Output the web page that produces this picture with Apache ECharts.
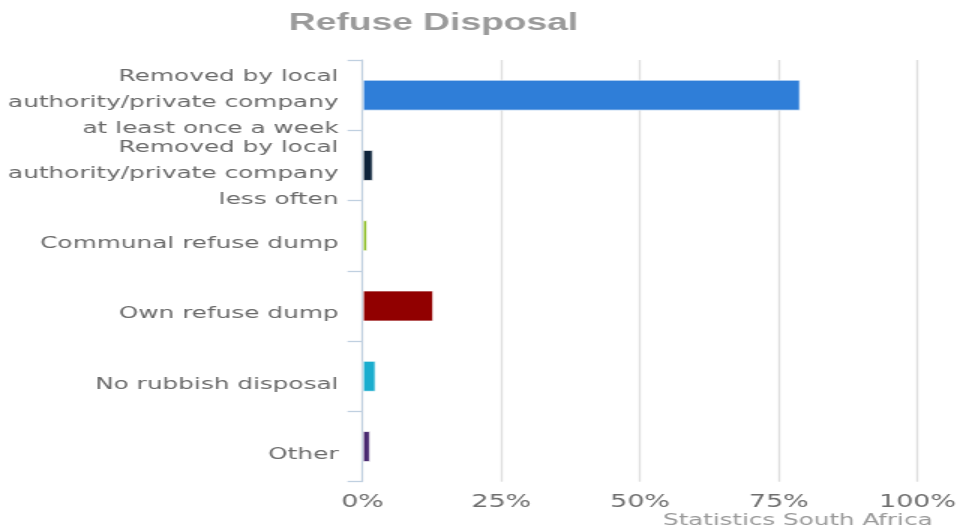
<!DOCTYPE html>
<html>
<head>
<meta charset="utf-8">
<script src="https://cdn.jsdelivr.net/npm/echarts@6/dist/echarts.min.js"></script>
<style>
  html, body { margin: 0; padding: 0; background: #fff; overflow: hidden; }
  /* the chart is laid out narrow and stretched horizontally to the page width */
  #chart { width: 643.33px; height: 531px; transform: scaleX(1.5); transform-origin: 0 0; }
</style>
</head>
<body>
<div id="chart"></div>
<script>
const titleText = 'Refuse Disposal';
const creditText = 'Statistics South Africa';
const categories = [
  'Removed by local\nauthority/private company\nat least once a week',
  'Removed by local\nauthority/private company\nless often',
  'Communal refuse dump',
  'Own refuse dump',
  'No rubbish disposal',
  'Other'
];
const percentages = [78.9, 1.9, 0.9, 12.8, 2.4, 1.4];
const barColors = ['#2f7ed8', '#0d233a', '#8bbc21', '#910000', '#1aadce', '#492970'];
const valueTicks = { min: 0, max: 100, interval: 25 };

// category labels sit a little below the band centre: an empty short first line pushes them down
const labelFormatter = (v) => '{gap|}\n' + v.split('\n').map((s) => '{t|' + s + '}').join('\n');

const chart = echarts.init(document.getElementById('chart'), null, { renderer: 'canvas' });
chart.setOption({
  animation: false,
  backgroundColor: '#fff',
  title: {
    text: titleText,
    left: 284,
    top: 6,
    textAlign: 'center',
    textStyle: { fontFamily: 'Liberation Sans', fontWeight: 'bold', fontSize: 24.8, color: '#9a9a9a' }
  },
  grid: { left: 241.7, right: 31.3, top: 60, bottom: 49.3, containLabel: false },
  xAxis: {
    type: 'value',
    min: valueTicks.min,
    max: valueTicks.max,
    interval: valueTicks.interval,
    axisLine: { show: false },
    axisTick: { show: false },
    splitLine: { show: true, lineStyle: { color: '#dedede', width: 1.3 } },
    axisLabel: {
      formatter: '{value}%',
      margin: 12,
      fontFamily: 'DejaVu Sans',
      fontSize: 18,
      color: '#6e6e6e'
    }
  },
  yAxis: {
    type: 'category',
    data: categories,
    inverse: true,
    axisLine: { show: true, lineStyle: { color: '#c0d0e0', width: 1 } },
    axisTick: { show: true, length: 10, lineStyle: { color: '#c0d0e0', width: 1.3 } },
    splitLine: { show: false },
    axisLabel: {
      interval: 0,
      hideOverlap: false,
      margin: 16,
      align: 'right',
      formatter: labelFormatter,
      rich: {
        gap: { lineHeight: 16, fontSize: 1 },
        t: { fontFamily: 'DejaVu Sans', fontSize: 16.5, lineHeight: 26, color: '#6a6a6a' }
      }
    }
  },
  series: [{
    type: 'bar',
    data: percentages,
    barWidth: 31,
    itemStyle: {
      color: (p) => barColors[p.dataIndex],
      borderColor: 'rgba(255,255,255,0.7)',
      borderWidth: 1
    }
  }],
  graphic: [{
    type: 'text',
    right: 21.3,
    top: 513,
    style: {
      text: creditText,
      fontFamily: 'DejaVu Sans',
      fontSize: 16.4,
      fill: '#999'
    }
  }]
});
</script>
</body>
</html>
